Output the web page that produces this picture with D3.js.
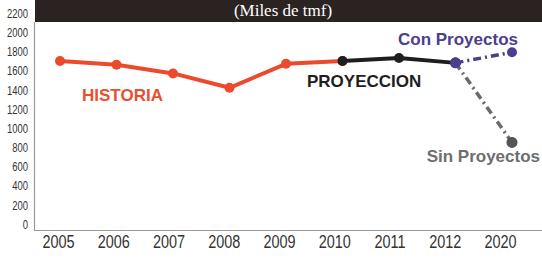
<!DOCTYPE html>
<html><head><meta charset="utf-8">
<script src="https://cdn.jsdelivr.net/npm/d3@7/dist/d3.min.js"></script>
<style>body{margin:0;background:#fff}svg{display:block}</style>
</head><body>
<script>
const years = ["2005","2006","2007","2008","2009","2010","2011","2012","2020"];
const historia = [["2005",1700],["2006",1660],["2007",1570],["2008",1420],["2009",1670],["2010",1700]];
const proyeccion = [["2010",1700],["2011",1730],["2012",1680]];
const conProyectos = [["2012",1680],["2020",1790]];
const sinProyectos = [["2012",1680],["2020",850]];
const yTicks = [0,200,400,600,800,1000,1200,1400,1600,1800,2000,2200];

const W=542,H=258;
const svg=d3.select("body").append("svg").attr("width",W).attr("height",H);
const y=d3.scaleLinear().domain([0,2200]).range([224,13]);
const x=d3.scalePoint().domain(years).range([60,512]);
const xl=d3.scalePoint().domain(years).range([58,500]);

svg.append("rect").attr("x",35).attr("y",0).attr("width",W-35).attr("height",22).attr("fill","#2b2222");
svg.append("text").attr("x",283).attr("y",16).attr("text-anchor","middle")
  .attr("font-family","'Liberation Serif','DejaVu Serif',serif").attr("font-size",17).attr("fill","#fff")
  .text("(Miles de tmf)");
svg.append("path").attr("d","M34.5,22V230.5H542").attr("fill","none").attr("stroke","#9a9a9a").attr("stroke-width",1.2);

const font="'Liberation Sans','Arial',sans-serif";
const ya=svg.append("g").attr("transform","translate(28,0)")
  .call(d3.axisLeft(y).tickValues(yTicks).tickFormat(d3.format("d")).tickSize(0).tickPadding(0));
ya.select(".domain").remove();
ya.selectAll("text").attr("font-family",font).attr("font-size",13.5).attr("fill","#333")
  .attr("transform","scale(0.7,1)");

const xa=svg.append("g").attr("transform","translate(0,235)")
  .call(d3.axisBottom(xl).tickSize(0).tickPadding(0));
xa.select(".domain").remove();
xa.selectAll("text").attr("font-family",font).attr("font-size",19).attr("fill","#333").attr("dy","0.71em")
  .attr("transform","scale(0.76,1)");

const line=d3.line().x(d=>x(d[0])).y(d=>y(d[1]));
function series(data,color,width,dash){
  svg.append("path").datum(data).attr("d",line).attr("fill","none")
    .attr("stroke",color).attr("stroke-width",width).attr("stroke-dasharray",dash||null)
    .attr("stroke-linejoin","round");
  svg.append("g").selectAll("circle").data(data).join("circle")
    .attr("cx",d=>x(d[0])).attr("cy",d=>y(d[1])).attr("r",5).attr("fill",color);
}
series(sinProyectos,"#6a6a6a",3.5,"8,4,2,4");
series(conProyectos,"#4b3d90",3.5,"8,4,2,4");
series(historia,"#ec4a2c",4);
series(proyeccion,"#1e1e1e",4);
svg.append("circle").attr("cx",x("2012")).attr("cy",y(1680)).attr("r",5.5).attr("fill","#4b3d90");
svg.append("circle").attr("cx",x("2020")).attr("cy",y(850)).attr("r",5.5).attr("fill","#555");

function lab(t,xx,yy,c,anchor){
  svg.append("text").attr("x",xx).attr("y",yy).attr("text-anchor",anchor||"start")
   .attr("font-family",font).attr("font-weight","bold").attr("font-size",17).attr("fill",c).text(t);
}
lab("HISTORIA",82,101,"#e8502f");
lab("PROYECCION",307,87,"#1e1e1e");
lab("Con Proyectos",518,45,"#4b3d90","end");
lab("Sin Proyectos",540,162,"#6e6e6e","end");
</script>
</body></html>
